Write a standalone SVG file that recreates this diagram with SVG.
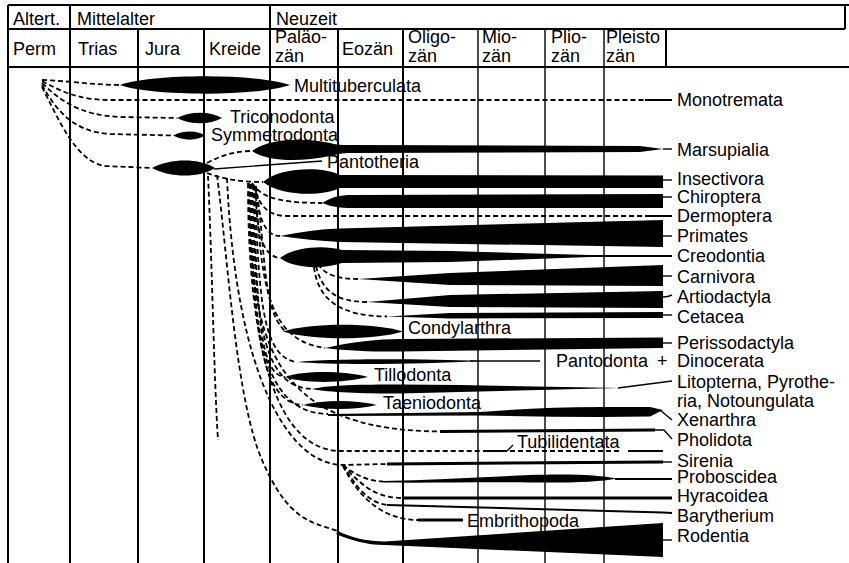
<svg xmlns="http://www.w3.org/2000/svg" width="849" height="563" viewBox="0 0 849 563">
<style>
.g{stroke:#000;stroke-width:2;fill:none}
.gt{stroke:#000;stroke-width:1.4;fill:none}
.d{fill:none;stroke:#000;stroke-width:1.8;stroke-dasharray:5 3}
.s{fill:none;stroke:#000;stroke-width:2}
.s3{fill:none;stroke:#000;stroke-width:3}
.s1{fill:none;stroke:#000;stroke-width:1.4}
.f{fill:#000;stroke:none}
text{font-family:"Liberation Sans",Arial,sans-serif;font-size:18px;fill:#000}
</style>
<rect width="849" height="563" fill="#fff"/>
<g id="grid">
<path class="g" d="M8,5H849M8,29H845M8,67H849M8,5V563M70,5V563M270,5V563M845,5V29M138,29V563M204,29V563M338,29V563M403,29V563M666,29V67"/>
<path class="gt" d="M478,29V563M545,29V563M604,29V563"/>
<text x="13" y="25">Altert.</text>
<text x="77" y="25">Mittelalter</text>
<text x="276" y="25">Neuzeit</text>
<text x="13" y="55">Perm</text>
<text x="78" y="55">Trias</text>
<text x="145" y="55">Jura</text>
<text x="209" y="55">Kreide</text>
<text x="275" y="43">Paläo-</text>
<text x="275" y="62">zän</text>
<text x="342" y="55">Eozän</text>
<text x="408" y="43">Oligo-</text>
<text x="408" y="62">zän</text>
<text x="482" y="43">Mio-</text>
<text x="482" y="62">zän</text>
<text x="551" y="43">Plio-</text>
<text x="551" y="62">zän</text>
<text x="606" y="43">Pleisto</text>
<text x="606" y="62">zän</text>
</g>
<g id="connectors">
<path class="d" d="M42,80 C70,81 95,85 120,85"/>
<path class="d" d="M42,81 C62,92 80,100 110,100 L648,100"/>
<path class="d" d="M42,83 C62,102 80,115 120,117 L177,118"/>
<path class="d" d="M42,85 C55,108 72,132 110,134 L173,135.5"/>
<path class="d" d="M42,87 C58,118 76,162 105,166 L152,168"/>
<path class="d" d="M207,163 C222,155 236,151 252,151"/>
<path class="d" d="M207,173 C225,180 245,182 263,182"/>
<path class="d" d="M252,183 C260,195 272,203 322,203"/>
<path class="d" d="M254,185 C258,203 266,216 287,216 L648,216"/>
<path class="d" d="M255,186 C258,215 264,236 280,236"/>
<path class="d" d="M256,188 C256,232 262,256 280,258"/>
<path class="d" d="M256,186 C266,250 262,310 285,331"/>
<path class="d" d="M255,186 C262,270 262,340 325,348"/>
<path class="d" d="M254,185 C260,280 258,358 297,362"/>
<path class="d" d="M253,185 C258,290 256,375 285,377"/>
<path class="d" d="M252,184 C256,300 256,387 312,389"/>
<path class="d" d="M251,184 C254,310 256,403 303,405"/>
<path class="d" d="M250,184 C252,320 258,413 328,414"/>
<path class="d" d="M249,183 C250,340 268,430 440,431.5"/>
<path class="d" d="M248,183 C248,360 280,450 340,451 L482,451"/>
<path class="d" d="M510,451 L622,451"/>
<path class="d" d="M227,178 C236,380 290,465 343,465 L387,464"/>
<path class="d" d="M343,465 C355,475 368,481 383,481.5"/>
<path class="d" d="M343,465 C365,490 380,498 403,498"/>
<path class="d" d="M343,465 C358,490 370,503 387,505"/>
<path class="d" d="M343,466 C360,500 385,520 418,520"/>
<path class="d" d="M318,264 C325,275 338,279 358,279"/>
<path class="d" d="M316,266 C322,290 335,302 367,302"/>
<path class="d" d="M314,267 C318,300 340,316 387,316.5"/>
<path class="d" d="M217,175 C228,260 236,400 262,460 S310,522 338,531"/>
<path class="d" d="M208,176 C212,260 214,380 218,440"/>
</g>
<g id="multituberculata"><path class="f" d="M120,85 C150,74 255,73 290,85 C255,97 150,96 120,85 Z"/><text x="294" y="92">Multituberculata</text></g>
<g id="monotremata"><path class="s" d="M645,100 H672"/><text x="677" y="106">Monotremata</text></g>
<g id="triconodonta"><path class="f" d="M177,118 C190,111 210,111 222,118 C210,125 190,125 177,118 Z"/><text x="230" y="123">Triconodonta</text></g>
<g id="symmetrodonta"><path class="f" d="M173,135.5 C183,130 197,130 205,135.5 C197,141 183,141 173,135.5 Z"/><text x="211" y="141">Symmetrodonta</text></g>
<g id="pantotheria"><path class="f" d="M152,168 C170,158 200,158 215,168 C200,178 170,178 152,168 Z"/><path class="s1" d="M214,169 L322,161"/><text x="327" y="168">Pantotheria</text></g>
<g id="marsupialia"><path class="f" d="M252,151 C268,139 300,137 330,143 C338,145 342,145 350,145 L640,146 L663,149 L640,152 L350,153 C342,153 338,154 330,156 C300,162 268,162 252,151 Z"/><path class="s1" d="M663,149 H672"/><text x="677" y="156">Marsupialia</text></g>
<g id="insectivora"><path class="f" d="M263,182 C280,167 322,166 340,175 L663,175.5 L663,188 L340,188 C322,197 280,196 263,182 Z"/><path class="s1" d="M663,180 H672"/><text x="677" y="185">Insectivora</text></g>
<g id="chiroptera"><path class="f" d="M322,203 C332,197 340,195 352,195 L663,194 L663,208 L352,208 C340,208 332,207 322,203 Z"/><path class="s1" d="M663,197 H672"/><text x="677" y="203">Chiroptera</text></g>
<g id="dermoptera"><path class="s" d="M648,216 H672"/><text x="677" y="222">Dermoptera</text></g>
<g id="primates"><path class="f" d="M280,236 C300,232 320,229 340,228.5 L663,220 L663,247 L340,242 C320,241 300,239 280,236 Z"/><path class="s1" d="M663,236 H672"/><text x="677" y="242">Primates</text></g>
<g id="creodontia"><path class="f" d="M280,258 C292,248 322,244 342,250 L450,251 L590,255 L590,257 L450,262 L342,263 C322,270 292,268 280,258 Z"/><path class="s" d="M588,256 H672"/><text x="677" y="262">Creodontia</text></g>
<g id="carnivora"><path class="f" d="M358,279 L450,273 L663,265 L663,286 L450,285 Z"/><path class="s1" d="M663,276 H672"/><text x="677" y="283">Carnivora</text></g>
<g id="artiodactyla"><path class="f" d="M367,302 L450,295 L663,291 L663,308 L450,307 Z"/><path class="s1" d="M663,297 Q668,297 672,295"/><text x="677" y="303">Artiodactyla</text></g>
<g id="cetacea"><path class="f" d="M387,316.5 L450,313 L663,312 L663,318 L450,318.5 Z"/><path class="s1" d="M663,315 H672"/><text x="677" y="323">Cetacea</text></g>
<g id="condylarthra"><path class="f" d="M283,331.5 C310,322.5 375,322.5 403,331.5 C375,340.5 310,340.5 283,331.5 Z"/><text x="408" y="334">Condylarthra</text></g>
<g id="perissodactyla"><path class="f" d="M325,348 C350,342 380,339 400,339 L663,337.5 L663,348 L400,351.5 C380,352 350,351 325,348 Z"/><path class="s1" d="M663,343 H672"/><text x="677" y="349">Perissodactyla</text></g>
<g id="pantodonta"><path class="f" d="M297,362 C330,358.5 420,358.5 480,361 C420,364.5 330,365 297,362 Z"/><path class="s1" d="M470,361 L540,361"/><text x="556" y="367">Pantodonta</text><text x="657" y="367">+</text><text x="677" y="367">Dinocerata</text></g>
<g id="tillodonta"><path class="f" d="M285,377 C305,370 345,371 368,377 C345,383 305,384 285,377 Z"/><text x="374" y="381">Tillodonta</text></g>
<g id="litopterna"><path class="f" d="M312,389 C330,385 360,384.5 400,384.5 L460,385 L620,388 L460,392 L400,393.5 C360,393.5 330,392.5 312,389 Z"/><path class="s1" d="M618,388 L672,381"/><text x="677" y="388">Litopterna, Pyrothe-</text><text x="677" y="407">ria, Notoungulata</text></g>
<g id="taeniodonta"><path class="f" d="M303,405 C325,399.5 355,400 377,405 C355,410 325,410.5 303,405 Z"/><text x="383" y="409">Taeniodonta</text></g>
<g id="xenarthra"><path class="f" d="M328,414 L480,412 C520,409 560,407 600,407 L650,407 L663,410 L650,416.5 L600,417 C560,417 520,416 480,415.5 L328,416 Z"/><path class="s1" d="M660,410 L672,420"/><text x="677" y="426">Xenarthra</text></g>
<g id="pholidota"><path class="s3" d="M440,431.5 L655,430"/><path class="s1" d="M654,430 L664,430 L672,439"/><text x="677" y="446">Pholidota</text></g>
<g id="tubilidentata"><path class="s" d="M483,451 L507,451 M628,451 L663,451"/><path class="s1" d="M507,451 L513,445"/><text x="517" y="448">Tubilidentata</text></g>
<g id="sirenia"><path class="s3" d="M387,464 L663,462"/><path class="s1" d="M663,462 H672"/><text x="677" y="467">Sirenia</text></g>
<g id="proboscidea"><path class="f" d="M383,481 C430,480 480,477.5 530,475 C570,473.5 600,475 617,478.5 C600,482 570,483 530,482.5 C480,482 430,483 383,482.5 Z"/><path class="s" d="M615,479 H672"/><text x="677" y="483">Proboscidea</text></g>
<g id="hyracoidea"><path class="s3" d="M403,498 H672"/><text x="677" y="502">Hyracoidea</text></g>
<g id="barytherium"><path class="s" d="M387,505 L663,512.5 L672,513"/><text x="677" y="522">Barytherium</text></g>
<g id="embrithopoda"><path class="s3" d="M418,520 H463"/><text x="467" y="527">Embrithopoda</text></g>
<g id="rodentia"><path class="f" d="M338,531 C352,538 368,541.5 385,541.5 L663,523 L663,557 L385,545 C366,545 350,540 336,534 Z"/><path class="s1" d="M663,540 H672"/><text x="677" y="542">Rodentia</text></g>
</svg>
